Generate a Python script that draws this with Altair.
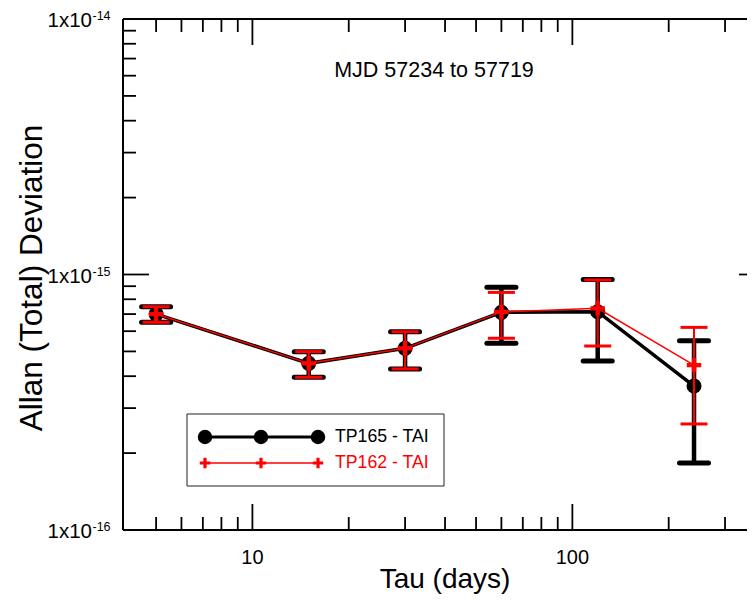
import altair as alt
import pandas as pd

# ---- data ----
tau = [5, 15, 30, 60, 120, 240]
tp165_adev = [7.0e-16, 4.49e-16, 5.14e-16, 7.11e-16, 7.15e-16, 3.66e-16]
tp165_hi = [7.48e-16, 4.99e-16, 5.97e-16, 8.91e-16, 9.57e-16, 5.51e-16]
tp165_lo = [6.50e-16, 3.96e-16, 4.27e-16, 5.38e-16, 4.59e-16, 1.83e-16]
tp162_adev = [7.0e-16, 4.49e-16, 5.14e-16, 7.14e-16, 7.37e-16, 4.42e-16]
tp162_hi = [7.48e-16, 4.99e-16, 5.97e-16, 8.51e-16, 9.52e-16, 6.21e-16]
tp162_lo = [6.50e-16, 3.96e-16, 4.27e-16, 5.63e-16, 5.25e-16, 2.60e-16]

x_major = [10, 100]
x_major_labels = ["10", "100"]
x_minor = [5, 6, 7, 8, 9, 20, 30, 40, 50, 60, 70, 80, 90, 200, 300]
y_major = [1e-16, 1e-15, 1e-14]
y_major_exp = ["-16", "-15", "-14"]
y_minor = [k * 1e-16 for k in range(2, 10)] + [k * 1e-15 for k in range(2, 10)]

series1 = "TP165 - TAI"
series2 = "TP162 - TAI"
title_text = "MJD 57234 to 57719"
x_title = "Tau (days)"
y_title = "Allan (Total) Deviation"

FONT = "Liberation Sans"
W, H = 621, 511
XR = 642  # full range of x scale (frame runs past the visible page edge)

xs = alt.Scale(type="log", domain=[3.94, 400], range=[0, XR], nice=False)
ys = alt.Scale(type="log", domain=[1e-16, 1e-14], nice=False)


def X(f):
    return alt.X(f, type="quantitative", scale=xs, axis=None)


def Y(f):
    return alt.Y(f, type="quantitative", scale=ys, axis=None)


d1 = pd.DataFrame({"tau": tau, "v": tp165_adev, "lo": tp165_lo, "hi": tp165_hi})
d2 = pd.DataFrame({"tau": tau, "v": tp162_adev, "lo": tp162_lo, "hi": tp162_hi})
one = pd.DataFrame({"a": [0]})

layers = []

# frame
frame = alt.Chart(one)
layers += [
    frame.mark_rule(color="black", strokeWidth=2).encode(x=alt.value(0), x2=alt.value(XR), y=alt.value(0)),
    frame.mark_rule(color="black", strokeWidth=2).encode(x=alt.value(0), x2=alt.value(XR), y=alt.value(H)),
    frame.mark_rule(color="black", strokeWidth=2).encode(x=alt.value(0), y=alt.value(0), y2=alt.value(H)),
    frame.mark_rule(color="black", strokeWidth=2).encode(x=alt.value(XR), y=alt.value(0), y2=alt.value(H)),
]

# inward ticks
dxmaj = pd.DataFrame({"v": x_major, "lab": x_major_labels})
dxmin = pd.DataFrame({"v": x_minor})
dymaj = pd.DataFrame({"v": y_major, "e": y_major_exp})
dymin = pd.DataFrame({"v": y_minor})
TW = 1.8
for df, ln in [(dxmaj, 26), (dxmin, 13)]:
    c = alt.Chart(df).mark_rule(color="black", strokeWidth=TW)
    layers.append(c.encode(x=X("v"), y=alt.value(H), y2=alt.value(H - ln)))
    layers.append(c.encode(x=X("v"), y=alt.value(0), y2=alt.value(ln)))
for df, ln in [(dymaj, 26), (dymin, 13)]:
    c = alt.Chart(df).mark_rule(color="black", strokeWidth=TW)
    layers.append(c.encode(y=Y("v"), x=alt.value(0), x2=alt.value(ln)))
    layers.append(c.encode(y=Y("v"), x=alt.value(XR - ln), x2=alt.value(XR)))

# x tick labels
layers.append(
    alt.Chart(dxmaj).mark_text(font=FONT, fontSize=20, color="black", align="center", baseline="alphabetic")
    .encode(x=X("v"), y=alt.value(H + 34), text="lab:N")
)
# y tick labels 1x10^n
layers.append(
    alt.Chart(dymaj).mark_text(font=FONT, fontSize=20.5, color="black", align="right", baseline="alphabetic", dy=8)
    .encode(y=Y("v"), x=alt.value(-31), text=alt.value("1x10"))
)
layers.append(
    alt.Chart(dymaj).mark_text(font=FONT, fontSize=12.5, color="black", align="left", baseline="alphabetic", dy=1)
    .encode(y=Y("v"), x=alt.value(-30.5), text="e:N")
)

# axis titles and inner title
layers.append(
    frame.mark_text(font=FONT, fontSize=28, color="black", align="center", baseline="alphabetic")
    .encode(x=alt.value(322), y=alt.value(569), text=alt.value(x_title))
)
layers.append(
    frame.mark_text(font=FONT, fontSize=31.5, color="black", align="center", baseline="middle", angle=270)
    .encode(x=alt.value(-90), y=alt.value(259), text=alt.value(y_title))
)
layers.append(
    frame.mark_text(font=FONT, fontSize=21.5, color="black", align="center", baseline="alphabetic")
    .encode(x=alt.value(311), y=alt.value(58), text=alt.value(title_text))
)

CAP = "M-1,0H1"
PLUS = "M-1,-0.3H-0.3V-1H0.3V-0.3H1V0.3H0.3V1H-0.3V0.3H-1Z"

# series 1 (black)
b = alt.Chart(d1)
layers += [
    b.mark_rule(color="black", strokeWidth=4.5).encode(x=X("tau"), y=Y("lo"), y2="hi:Q"),
    b.mark_point(shape=CAP, size=841, stroke="black", strokeWidth=5, strokeCap="round", filled=False, opacity=1)
    .encode(x=X("tau"), y=Y("lo")),
    b.mark_point(shape=CAP, size=841, stroke="black", strokeWidth=5, strokeCap="round", filled=False, opacity=1)
    .encode(x=X("tau"), y=Y("hi")),
    b.mark_line(color="black", strokeWidth=3.5).encode(x=X("tau"), y=Y("v")),
    b.mark_point(shape="circle", size=225, filled=True, color="black", opacity=1).encode(x=X("tau"), y=Y("v")),
]
# series 2 (red)
r = alt.Chart(d2)
layers += [
    r.mark_rule(color="red", strokeWidth=2).encode(x=X("tau"), y=Y("lo"), y2="hi:Q"),
    r.mark_point(shape=CAP, size=729, stroke="red", strokeWidth=3, filled=False, opacity=1)
    .encode(x=X("tau"), y=Y("lo")),
    r.mark_point(shape=CAP, size=729, stroke="red", strokeWidth=3, filled=False, opacity=1)
    .encode(x=X("tau"), y=Y("hi")),
    r.mark_line(color="red", strokeWidth=1.5).encode(x=X("tau"), y=Y("v")),
    r.mark_point(shape=PLUS, size=210, filled=True, color="red", strokeWidth=0, opacity=1)
    .encode(x=X("tau"), y=Y("v")),
]

# legend (drawn by hand)
layers.append(
    frame.mark_rect(fill="white", stroke="#222222", strokeWidth=1)
    .encode(x=alt.value(64), x2=alt.value(321), y=alt.value(395), y2=alt.value(467))
)
layers.append(
    frame.mark_rule(color="black", strokeWidth=3).encode(x=alt.value(82), x2=alt.value(195), y=alt.value(418))
)
layers.append(
    frame.mark_rule(color="red", strokeWidth=1.5).encode(x=alt.value(82), x2=alt.value(195), y=alt.value(444))
)
for px in [82, 138, 195]:
    layers.append(
        frame.mark_point(shape="circle", size=210, filled=True, color="black", opacity=1)
        .encode(x=alt.value(px), y=alt.value(418))
    )
    layers.append(
        frame.mark_point(shape=PLUS, size=110, filled=True, color="red", strokeWidth=0, opacity=1)
        .encode(x=alt.value(px), y=alt.value(444))
    )
layers.append(
    frame.mark_text(font=FONT, fontSize=17.7, color="black", align="left", baseline="middle")
    .encode(x=alt.value(212), y=alt.value(418), text=alt.value(series1))
)
layers.append(
    frame.mark_text(font=FONT, fontSize=17.7, color="red", align="left", baseline="middle")
    .encode(x=alt.value(212), y=alt.value(444), text=alt.value(series2))
)

chart = (
    alt.layer(*layers)
    .properties(
        width=W,
        height=H,
        autosize=alt.AutoSizeParams(type="none"),
        padding={"left": 115, "top": 11, "right": 3, "bottom": 64},
    )
    .configure_view(stroke=None)
)

chart.save("out.html", embed_options={"renderer": "svg", "actions": False})
